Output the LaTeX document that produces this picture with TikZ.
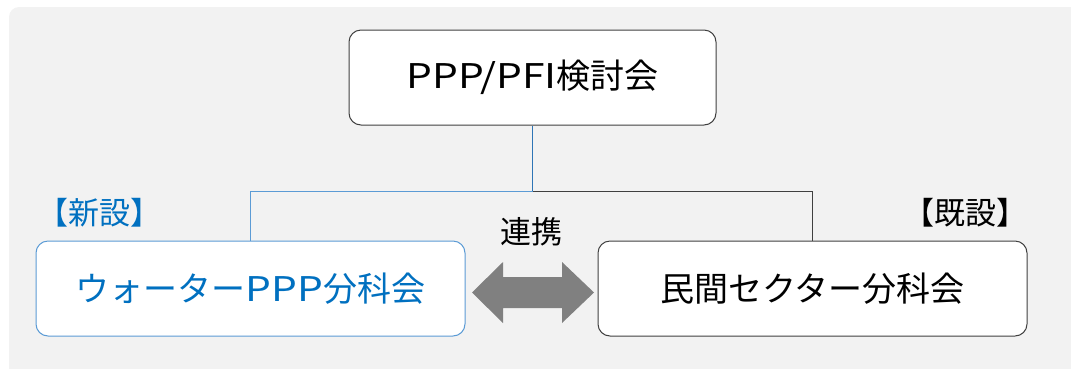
\documentclass[tikz,border=0pt]{standalone}
\usepackage{fontspec}
\newfontfamily\jp{Noto Sans CJK JP}
\newfontfamily\lat[FakeStretch=1.2]{Noto Sans CJK JP}
\definecolor{bg}{HTML}{F2F2F2}
\definecolor{boxline}{HTML}{404040}
\definecolor{lblue}{HTML}{5B9BD5}
\definecolor{dblue}{HTML}{2E75B6}
\definecolor{tblue}{HTML}{0070C0}
\definecolor{arrowgray}{HTML}{808080}
\tikzset{
  orgbox/.style={draw=boxline, line width=1pt, fill=white, rounded corners=12pt, inner sep=0pt, font=\jp\fontsize{34}{40}\selectfont},
  lbl/.style={inner sep=0pt, font=\jp\fontsize{31}{36}\selectfont},
}
\begin{document}
\begin{tikzpicture}[x=1pt,y=-1pt]
\useasboundingbox (0,0) rectangle (1071,368);
\fill[bg, rounded corners=10pt] (9,7) rectangle (1090,390);
\node[orgbox, minimum width=367pt, minimum height=95pt] (top) at (532.5,77.5) {{\lat PPP/PFI}検討会};
\node[orgbox, draw=lblue, text=tblue, minimum width=429pt, minimum height=95pt] (water) at (250.5,288.5) {ウォーター{\lat PPP}分科会};
\node[orgbox, minimum width=429pt, minimum height=95pt] (priv) at (812.5,288.5) {民間セクター分科会};
\coordinate (j) at (532.5,191.5);
\draw[dblue, line width=1pt] (top.south) -- (j);
\draw[lblue, line width=1pt] (j) -| (water.north);
\draw[boxline, line width=1pt] (j) -| (priv.north);
\node[lbl, text=tblue] (new) at (99,213) {【新設】};
\node[lbl] (old) at (965,213) {【既設】};
\node[lbl] (renkei) at (531,232) {連携};
\coordinate (al) at (472,292.5);
\coordinate (ar) at (594,292.5);
\fill[arrowgray] (al) -- ++(31,-30.5) -- ++(0,15) -- ++(59,0) -- ++(0,-15) -- (ar) -- ++(-32,30.5) -- ++(0,-15) -- ++(-59,0) -- ++(0,15) -- cycle;
\end{tikzpicture}
\end{document}
